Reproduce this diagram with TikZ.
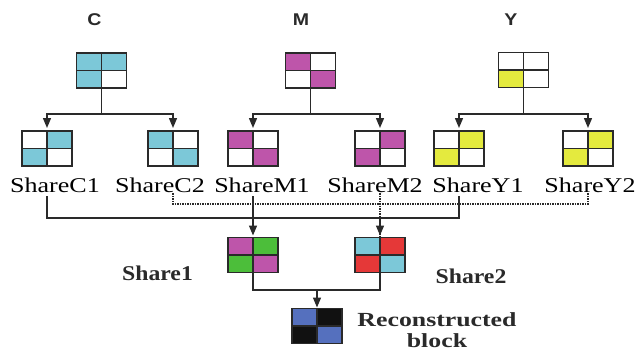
\documentclass[tikz,border=0pt]{standalone}
\usepackage{fontspec}
\usepackage{graphicx}
\setmainfont{Liberation Serif}
\setsansfont{Liberation Sans}
\usetikzlibrary{arrows.meta}
\definecolor{cy}{HTML}{7CC8D8}
\definecolor{mg}{HTML}{BE55AA}
\definecolor{yl}{HTML}{E4EA3E}
\definecolor{gr}{HTML}{4CBE3A}
\definecolor{rd}{HTML}{E53838}
\definecolor{bl}{HTML}{5570BE}
\definecolor{bk}{HTML}{111111}
\definecolor{ln}{HTML}{2A2A2A}
\tikzset{
  blk/.style={minimum width=50pt,minimum height=35pt,inner sep=0pt,outer sep=0pt},
  gridln/.style={draw=ln,line width=1.8pt},
  conn/.style={draw=ln,line width=1.4pt},
  dots/.style={draw=ln,line width=1.1pt,dash pattern=on 1.5pt off 1pt},
  arr/.style={-{Triangle[length=10pt,width=8pt]}},
  sharelbl/.style={font=\fontsize{21}{22}\selectfont,inner sep=0pt,anchor=base,text=black},
  boldlbl/.style={font=\fontsize{20}{21}\selectfont\bfseries,inner sep=0pt,anchor=base,text=ln,align=center},
  cmylbl/.style={font=\fontsize{17}{18}\selectfont\sffamily\bfseries,inner sep=0pt,anchor=base,text=ln}
}
\newcommand\cells[5]{%
  \fill[#2] (#1.north west) rectangle (#1.center);
  \fill[#3] (#1.north) rectangle (#1.east);
  \fill[#4] (#1.west) rectangle (#1.south);
  \fill[#5] (#1.center) rectangle (#1.south east);
  \draw[gridln] (#1.north) -- (#1.south) (#1.west) -- (#1.east) (#1.north west) rectangle (#1.south east);
}
\begin{document}
\begin{tikzpicture}[x=1pt,y=-1pt]
\useasboundingbox[fill=white] (0,0) rectangle (640,351);
% top labels
\node[cmylbl] (lC) at (94.5,25) {\scalebox{1.15}[1]{C}};
\node[cmylbl] (lM) at (301,25) {\scalebox{1.15}[1]{M}};
\node[cmylbl] (lY) at (511,25) {\scalebox{1.15}[1]{Y}};
% top blocks
\node[blk] (C) at (101.5,70.5) {};
\node[blk] (M) at (310.5,70.5) {};
\node[blk] (Y) at (523.5,70) {};
\cells{C}{cy}{cy}{cy}{white}
\cells{M}{mg}{white}{white}{mg}
\cells{Y}{white}{white}{yl}{white}
% shares
\node[blk] (C1) at (47,148.5) {};
\node[blk] (C2) at (173,148.5) {};
\node[blk] (M1) at (253,148.5) {};
\node[blk] (M2) at (380,148.5) {};
\node[blk] (Y1) at (459,148.5) {};
\node[blk] (Y2) at (588,148.5) {};
\cells{C1}{white}{cy}{cy}{white}
\cells{C2}{cy}{white}{white}{cy}
\cells{M1}{mg}{white}{white}{mg}
\cells{M2}{white}{mg}{mg}{white}
\cells{Y1}{white}{yl}{yl}{white}
\cells{Y2}{white}{yl}{yl}{white}
% share labels
\node[sharelbl] (C1t) at (55,192) {\scalebox{1.24}[1]{ShareC1}};
\node[sharelbl] (C2t) at (160,192) {\scalebox{1.24}[1]{ShareC2}};
\node[sharelbl] (M1t) at (262,192) {\scalebox{1.24}[1]{ShareM1}};
\node[sharelbl] (M2t) at (375,192) {\scalebox{1.24}[1]{ShareM2}};
\node[sharelbl] (Y1t) at (478,192) {\scalebox{1.24}[1]{ShareY1}};
\node[sharelbl] (Y2t) at (590,192) {\scalebox{1.24}[1]{ShareY2}};
% combined shares
\node[blk] (S1) at (253,255) {};
\node[blk] (S2) at (380,255) {};
\node[blk] (R) at (317,326) {};
\cells{S1}{mg}{gr}{gr}{mg}
\cells{S2}{cy}{rd}{rd}{cy}
\cells{R}{bl}{bk}{bk}{bl}
\node[boldlbl] (S1t) at (157.5,280) {\scalebox{1.13}[1]{\fontsize{21}{22}\selectfont Share1}};
\node[boldlbl] (S2t) at (471,283) {\scalebox{1.13}[1]{\fontsize{21}{22}\selectfont Share2}};
\node[boldlbl] (Rt1) at (437,326) {\scalebox{1.29}[1]{Reconstructed}};
\node[boldlbl] (Rt2) at (437,347) {\scalebox{1.29}[1]{block}};
% forks from top blocks
\coordinate (busTop) at (0,114);
\coordinate (busDot) at (0,204);
\coordinate (busSol) at (0,218);
\coordinate (busBot) at (0,290);
\draw[conn] (C.south) -- (C.south |- busTop);
\draw[conn,arr,shorten >=3pt] (C.south |- busTop) -| (C1.north);
\draw[conn,arr,shorten >=3pt] (C.south |- busTop) -| (C2.north);
\draw[conn] (M.south) -- (M.south |- busTop);
\draw[conn,arr,shorten >=3pt] (M.south |- busTop) -| (M1.north);
\draw[conn,arr,shorten >=3pt] (M.south |- busTop) -| (M2.north);
\draw[conn] (Y.south) -- (Y.south |- busTop);
\draw[conn,arr,shorten >=3pt] (Y.south |- busTop) -| (Y1.north);
\draw[conn,arr,shorten >=3pt] (Y.south |- busTop) -| (Y2.north);
% label anchor points
\coordinate (c1b) at ([yshift=-4pt]C1 |- C1t.south);
\coordinate (c2b) at ([yshift=-1pt]C2 |- C2t.south);
\coordinate (m1b) at ([yshift=-4pt]M1 |- M1t.south);
\coordinate (m2b) at ([yshift=-1pt]M2 |- M2t.south);
\coordinate (y1b) at ([yshift=-4pt]Y1 |- Y1t.south);
\coordinate (y2b) at ([yshift=-1pt]Y2 |- Y2t.south);
% dotted bus
\draw[dots] (c2b) -- (c2b |- busDot) -- (y2b |- busDot) -- (y2b);
\draw[dots] (m2b) -- (m2b |- S2.north);
\draw[conn,arr,shorten >=2pt] (m2b |- busSol) -- (S2.north);
% solid bus
\draw[conn] (c1b) -- (c1b |- busSol) -- (y1b |- busSol) -- (y1b);
\draw[conn,arr,shorten >=2pt] (m1b) -- (S1.north);
% bottom
\draw[conn] (S1.south) -- (S1.south |- busBot) -- (S2.south |- busBot) -- (S2.south);
\draw[conn,arr,shorten >=1pt] (R.north |- busBot) -- (R.north);
\end{tikzpicture}
\end{document}
